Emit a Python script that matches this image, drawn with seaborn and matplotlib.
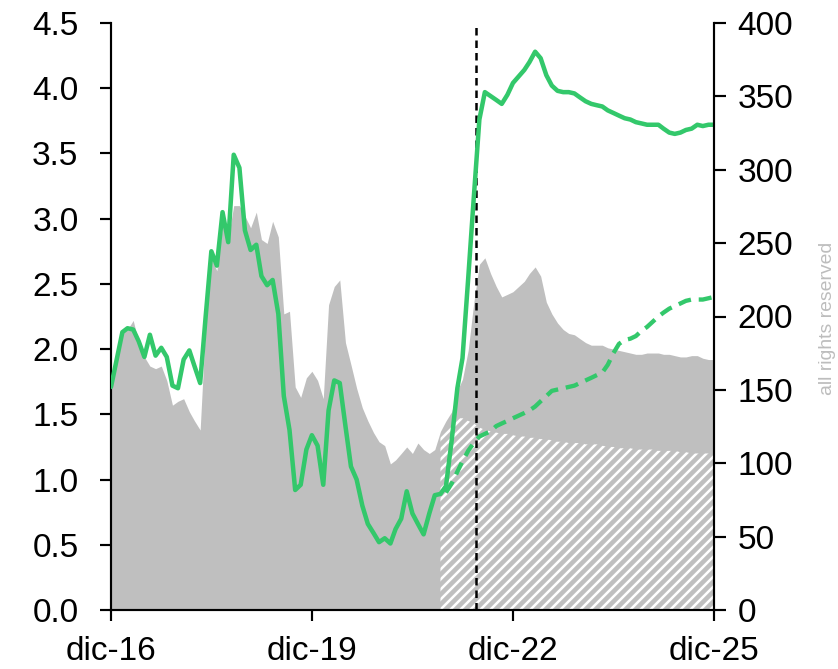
import numpy as np
import pandas as pd
import matplotlib
matplotlib.use("Agg")
import matplotlib.pyplot as plt
import seaborn as sns

# ---------------- data ----------------
series_start = "2016-12-01"
gray_total = [
    1.71, 1.95, 2.12, 2.15, 2.22, 2.05, 1.94, 1.87, 1.85, 1.87,
    1.76, 1.57, 1.60, 1.62, 1.52, 1.45, 1.38, 2.20, 2.70, 2.60,
    2.95, 2.85, 3.10, 3.10, 3.02, 2.93, 3.05, 2.84, 2.81, 2.98,
    2.86, 2.27, 2.29, 1.71, 1.63, 1.78, 1.83, 1.76, 1.62, 2.34,
    2.48, 2.53, 2.05, 1.88, 1.70, 1.55, 1.45, 1.36, 1.29, 1.26,
    1.12, 1.15, 1.20, 1.25, 1.20, 1.28, 1.23, 1.20, 1.23, 1.37,
    1.45, 1.52, 1.68, 1.77, 1.99, 2.35, 2.65, 2.70, 2.58, 2.48,
    2.40, 2.42, 2.44, 2.48, 2.52, 2.58, 2.63, 2.56, 2.36, 2.27,
    2.20, 2.15, 2.12, 2.11, 2.08, 2.05, 2.03, 2.03, 2.03, 2.01,
    2.00, 1.99, 1.98, 1.97, 1.96, 1.96, 1.97, 1.97, 1.97, 1.96,
    1.96, 1.95, 1.94, 1.94, 1.95, 1.95, 1.93, 1.92, 1.92,
]
green_solid = [
    1.71, 1.92, 2.13, 2.16, 2.15, 2.06, 1.94, 2.11, 1.95, 2.01,
    1.94, 1.72, 1.70, 1.92, 1.99, 1.87, 1.74, 2.25, 2.75, 2.64,
    3.05, 2.82, 3.49, 3.39, 2.91, 2.76, 2.80, 2.56, 2.49, 2.53,
    2.27, 1.64, 1.38, 0.92, 0.96, 1.23, 1.34, 1.26, 0.96, 1.53,
    1.76, 1.74, 1.41, 1.10, 1.00, 0.80, 0.66, 0.59, 0.52, 0.55,
    0.51, 0.62, 0.70, 0.91, 0.74, 0.66, 0.58, 0.74, 0.88, 0.89,
    0.95, 1.30, 1.70, 1.93, 2.54, 3.15, 3.76, 3.97, 3.94, 3.91,
    3.88, 3.95, 4.04, 4.09, 4.14, 4.20, 4.28, 4.23, 4.10, 4.02,
    3.98, 3.97, 3.97, 3.96, 3.93, 3.90, 3.88, 3.87, 3.86, 3.83,
    3.81, 3.79, 3.77, 3.76, 3.74, 3.73, 3.72, 3.72, 3.72, 3.69,
    3.66, 3.65, 3.66, 3.68, 3.69, 3.72, 3.71, 3.72, 3.72,
]
hatch_start = "2021-11-01"
hatched_part = [
    1.33, 1.40, 1.44, 1.47, 1.47, 1.45, 1.43, 1.40, 1.38, 1.37,
    1.36, 1.35, 1.35, 1.34, 1.33, 1.33, 1.32, 1.32, 1.31, 1.31,
    1.30, 1.29, 1.29, 1.28, 1.28, 1.28, 1.27, 1.27, 1.27, 1.26,
    1.25, 1.25, 1.24, 1.24, 1.24, 1.23, 1.23, 1.23, 1.23, 1.22,
    1.22, 1.22, 1.22, 1.21, 1.21, 1.20, 1.20, 1.20, 1.20, 1.20,
]
dashed_start = "2021-12-01"
green_dashed = [
    0.90, 0.97, 1.06, 1.14, 1.22, 1.28, 1.33, 1.35, 1.37, 1.41,
    1.43, 1.45, 1.47, 1.49, 1.51, 1.53, 1.56, 1.60, 1.64, 1.68,
    1.69, 1.70, 1.71, 1.72, 1.74, 1.76, 1.78, 1.80, 1.82, 1.88,
    1.97, 2.04, 2.07, 2.08, 2.10, 2.14, 2.17, 2.21, 2.25, 2.28,
    2.31, 2.33, 2.35, 2.37, 2.38, 2.38, 2.38, 2.39, 2.40,
]
vline_date = "2022-05-16"
xtick_dates = ["2016-12-01", "2019-12-01", "2022-12-01", "2025-12-01"]
xtick_labels = ["dic-16", "dic-19", "dic-22", "dic-25"]
left_ticks = [0.0, 0.5, 1.0, 1.5, 2.0, 2.5, 3.0, 3.5, 4.0, 4.5]
right_ticks = [0, 50, 100, 150, 200, 250, 300, 350, 400]
watermark = "all rights reserved"

# ---------------- style ----------------
sns.set_theme(style="ticks")
plt.rcParams["font.family"] = ["Liberation Sans", "DejaVu Sans"]
plt.rcParams["hatch.linewidth"] = 1.5
plt.rcParams["hatch.color"] = "white"

GREEN = "#33c86b"
GRAY = "#bfbfbf"
DPI = 120
W, H = 838, 669

fig = plt.figure(figsize=(W / DPI, H / DPI), dpi=DPI)
ax = fig.add_axes([111 / W, 59 / H, 603 / W, 587 / H])

dates = pd.date_range(series_start, periods=len(gray_total), freq="MS")
hdates = pd.date_range(hatch_start, periods=len(hatched_part), freq="MS")
ddates = pd.date_range(dashed_start, periods=len(green_dashed), freq="MS")

ax.fill_between(dates, 0, gray_total, color=GRAY, lw=0, zorder=1)
ax.fill_between(hdates, 0, hatched_part, facecolor=GRAY, edgecolor="white",
                hatch="////", lw=0, zorder=2)
sns.lineplot(x=ddates, y=green_dashed, ax=ax, color=GREEN, lw=2.6,
             linestyle=(0, (3, 1.8)), zorder=3)
ax.axvline(pd.Timestamp(vline_date), color="black", lw=1.5,
           linestyle=(0, (3, 2)), zorder=4)
sns.lineplot(x=dates, y=green_solid, ax=ax, color=GREEN, lw=2.7, zorder=5)

ax.set_xlim(dates[0], dates[-1])
ax.set_ylim(0, 4.5)
ax.set_yticks(left_ticks)
ax.set_yticklabels([f"{v:.1f}" for v in left_ticks])
ax.set_xticks(pd.to_datetime(xtick_dates))
ax.set_xticklabels(xtick_labels)
ax.set_xlabel("")
ax.set_ylabel("")

ax2 = ax.twinx()
ax2.set_ylim(0, 400)
ax2.set_yticks(right_ticks)
ax2.set_yticklabels([str(v) for v in right_ticks])

for a in (ax, ax2):
    a.spines["top"].set_visible(False)
    for s in a.spines.values():
        s.set_color("black")
        s.set_linewidth(1.3)
ax.spines["right"].set_visible(False)
ax2.spines["left"].set_visible(False)
ax2.spines["bottom"].set_visible(False)

ax.tick_params(axis="y", direction="out", length=6.5, width=1.3,
               colors="black", labelsize=20, pad=13)
ax.tick_params(axis="x", direction="out", length=6.5, width=1.3,
               colors="black", labelsize=20, pad=9)
ax2.tick_params(axis="y", direction="out", length=7, width=1.3,
                colors="black", labelsize=20, pad=7)

fig.text(827 / W, (H - 318) / H, watermark, rotation=90, color="#bdbdbd",
         fontsize=11.6, ha="center", va="center")

fig.savefig("out.png", dpi=DPI)
